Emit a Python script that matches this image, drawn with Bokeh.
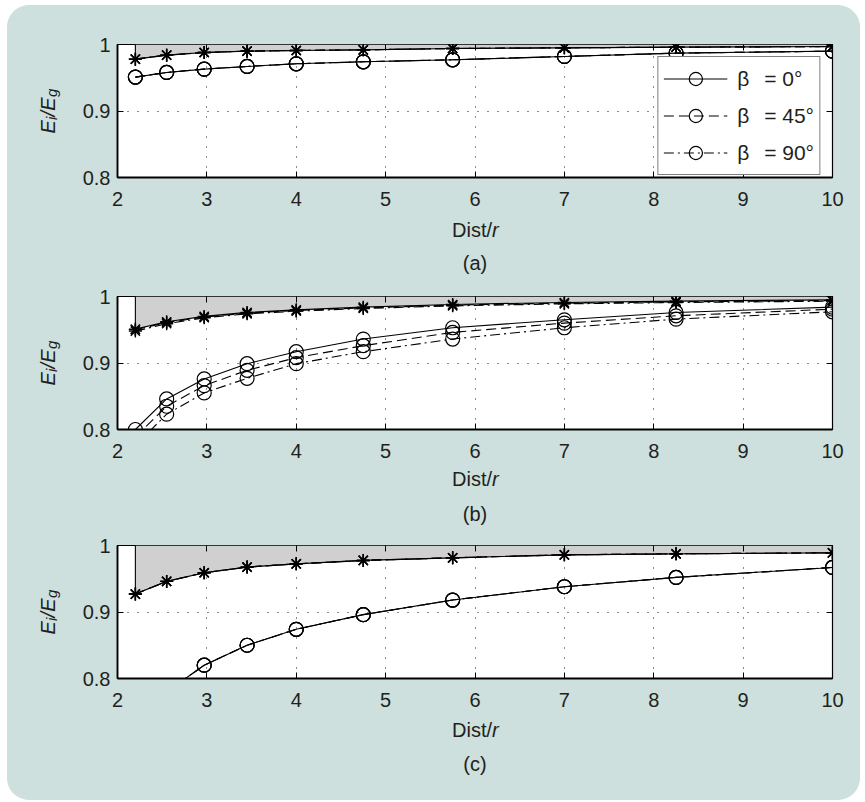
from math import pi
from bokeh.plotting import figure
from bokeh.models import (FixedTicker, LinearAxis, Label, Legend, LegendItem,
                          CustomJSTickFormatter, Range1d)
from bokeh.layouts import column
from bokeh.embed import file_html
from bokeh.resources import INLINE

# ---------------- data ----------------
x_dist = [2.2, 2.55, 2.97, 3.45, 4.0, 4.75, 5.75, 7.0, 8.25, 10.0]
x_ticks = [2, 3, 4, 5, 6, 7, 8, 9, 10]
x_tick_labels = ["2", "3", "4", "5", "6", "7", "8", "9", "10"]
y_ticks = [0.8, 0.9, 1.0]
y_tick_labels = ["0.8", "0.9", "1"]
beta_labels = ["β\u2002\u2009= 0°", "β\u2002\u2009= 45°", "β\u2002\u2009= 90°"]
panel_tags = ["(a)", "(b)", "(c)"]

# panel (a)
a_star_0 = [0.978, 0.984, 0.988, 0.990, 0.991, 0.992, 0.994, 0.995, 0.996, 0.997]
a_star_45 = [0.978, 0.984, 0.988, 0.990, 0.991, 0.992, 0.994, 0.995, 0.996, 0.997]
a_star_90 = [0.978, 0.984, 0.988, 0.990, 0.991, 0.992, 0.994, 0.995, 0.996, 0.997]
a_circ_0 = [0.951, 0.958, 0.963, 0.967, 0.971, 0.974, 0.977, 0.982, 0.987, 0.990]
a_circ_45 = [0.951, 0.958, 0.963, 0.967, 0.971, 0.974, 0.977, 0.982, 0.987, 0.990]
a_circ_90 = [0.951, 0.958, 0.963, 0.967, 0.971, 0.974, 0.977, 0.982, 0.987, 0.990]

# panel (b)
b_star_0 = [0.951, 0.962, 0.970, 0.976, 0.980, 0.984, 0.988, 0.991, 0.993, 0.995]
b_star_45 = [0.950, 0.961, 0.969, 0.975, 0.979, 0.983, 0.987, 0.990, 0.992, 0.994]
b_star_90 = [0.948, 0.959, 0.968, 0.974, 0.978, 0.982, 0.986, 0.989, 0.991, 0.993]
b_circ_0 = [0.800, 0.846, 0.876, 0.899, 0.917, 0.936, 0.953, 0.965, 0.976, 0.984]
b_circ_45 = [0.789, 0.835, 0.866, 0.889, 0.908, 0.926, 0.946, 0.960, 0.971, 0.981]
b_circ_90 = [0.776, 0.823, 0.855, 0.877, 0.899, 0.917, 0.936, 0.953, 0.966, 0.977]

# panel (c)
c_star_0 = [0.927, 0.946, 0.959, 0.9675, 0.9725, 0.9775, 0.9815, 0.986, 0.9875, 0.989]
c_star_45 = [0.927, 0.946, 0.959, 0.9675, 0.9725, 0.9775, 0.9815, 0.986, 0.9875, 0.989]
c_star_90 = [0.927, 0.946, 0.959, 0.9675, 0.9725, 0.9775, 0.9815, 0.986, 0.9875, 0.989]
c_circ_0 = [0.730, 0.780, 0.820, 0.850, 0.874, 0.896, 0.918, 0.938, 0.952, 0.967]
c_circ_45 = [0.730, 0.780, 0.820, 0.850, 0.874, 0.896, 0.918, 0.938, 0.952, 0.967]
c_circ_90 = [0.730, 0.780, 0.820, 0.850, 0.874, 0.896, 0.918, 0.938, 0.952, 0.967]

# ---------------- style ----------------
FONT = "Liberation Sans"
TXT = "#231f20"
BG = "#cde0dd"
FILL = "#d0d0d0"
DASHES = ["solid", "10 5", "10 4 2 4"]
FS = 20


def txt(p, side, text, x, y, xo, yo, size=FS, style="normal", align="center",
        baseline="middle", angle=0.0):
    # labels placed in a side panel are not clipped to the frame
    p.add_layout(Label(x=x, y=y, x_offset=xo, y_offset=yo, text=text,
                       text_font=FONT, text_font_size=f"{size}px",
                       text_font_style=style, text_align=align,
                       text_baseline=baseline, angle=angle, text_color=TXT),
                 side)


def make_panel(stars, circles, tag, top, bottom, xlab_off, tag_off, legend=False):
    p = figure(frame_width=715, frame_height=133,
               x_range=Range1d(2, 10), y_range=Range1d(0.8, 1.0),
               output_backend="svg", toolbar_location=None,
               min_border_left=110, min_border_right=28,
               min_border_top=top, min_border_bottom=bottom,
               background_fill_color="white", border_fill_color=None,
               outline_line_color="black", outline_line_width=1.2)

    # axes
    p.xaxis.ticker = FixedTicker(ticks=x_ticks)
    p.yaxis.ticker = FixedTicker(ticks=y_ticks)
    p.xaxis.major_label_overrides = dict(zip(x_ticks, x_tick_labels))
    p.yaxis.major_label_overrides = dict(zip(y_ticks, y_tick_labels))
    for ax in (p.xaxis[0], p.yaxis[0]):
        ax.axis_line_color = "black"
        ax.axis_line_width = 1.8
        ax.major_tick_in = 6
        ax.major_tick_out = 0
        ax.major_tick_line_color = "black"
        ax.minor_tick_line_color = None
        ax.major_label_text_font = FONT
        ax.major_label_text_font_size = f"{FS}px"
        ax.major_label_text_color = TXT
    p.xaxis.major_label_standoff = 14
    p.yaxis.major_label_standoff = 7

    for loc, tk in (("above", x_ticks), ("right", y_ticks)):
        ax = LinearAxis(ticker=FixedTicker(ticks=tk),
                        formatter=CustomJSTickFormatter(code="return ''"),
                        major_label_text_font_size="0px",
                        major_label_standoff=0,
                        major_tick_in=6, major_tick_out=0,
                        major_tick_line_color="black",
                        minor_tick_line_color=None, axis_line_color=None)
        p.add_layout(ax, loc)

    # grid
    p.xgrid.ticker = FixedTicker(ticks=x_ticks)
    p.ygrid.ticker = FixedTicker(ticks=y_ticks)
    for g in (p.xgrid[0], p.ygrid[0]):
        g.grid_line_color = "black"
        g.grid_line_dash = "1 9"
        g.grid_line_width = 1
        g.grid_line_alpha = 0.9

    # shaded region between the upper curve and 1
    p.varea(x=x_dist, y1=stars[0], y2=1.0, fill_color=FILL)
    p.segment(x0=x_dist[0], y0=stars[0][0], x1=x_dist[0], y1=1.0,
              line_color="black", line_width=1.1)
    p.segment(x0=x_dist[-1], y0=stars[0][-1], x1=x_dist[-1], y1=1.0,
              line_color="black", line_width=1.1)

    items = []
    for i in range(3):
        p.line(x_dist, stars[i], line_color="black", line_width=1.2,
               line_dash=DASHES[i])
        p.scatter(x_dist, stars[i], marker="asterisk", size=13,
                  line_color="black", line_width=1.4)
        lr = p.line(x_dist, circles[i], line_color="black", line_width=1.1,
                    line_dash=DASHES[i])
        cr = p.scatter(x_dist, circles[i], marker="circle", size=14,
                       fill_color=None, line_color="black", line_width=1.2)
        items.append(LegendItem(label=beta_labels[i], renderers=[lr, cr]))

    if legend:
        lg = Legend(items=items, location="top_right", margin=12,
                    label_text_font=FONT, label_text_font_size="21px",
                    label_text_color=TXT,
                    glyph_width=64, glyph_height=33, label_height=33,
                    spacing=4, padding=5, label_standoff=10,
                    border_line_color="black", border_line_width=1.6,
                    background_fill_color="white", background_fill_alpha=1.0)
        p.add_layout(lg)

    # y axis label  E_i / E_g  (rotated, reads bottom to top)
    ang = pi / 2
    xo = -70
    txt(p, "left", "E", 2, 0.9, xo, -22.5, style="italic", align="left", baseline="alphabetic", angle=ang)
    txt(p, "left", "i", 2, 0.9, xo + 4, -9.0, size=15, style="italic", align="left", baseline="alphabetic", angle=ang)
    txt(p, "left", "/E", 2, 0.9, xo, -5.4, style="italic", align="left", baseline="alphabetic", angle=ang)
    txt(p, "right", "g", 2, 0.9, xo + 4, 14.0, size=15, style="italic", align="left", baseline="alphabetic", angle=ang)

    # x axis label  Dist/r  and panel tag
    txt(p, "below", "Dist/", 6, 0.8, 17, -xlab_off, align="right")
    txt(p, "below", "r", 6, 0.8, 17, -xlab_off, style="italic", align="left")
    txt(p, "below", tag, 6, 0.8, 0, -tag_off)
    return p


pa = make_panel([a_star_0, a_star_45, a_star_90], [a_circ_0, a_circ_45, a_circ_90],
                panel_tags[0], 39, 98, 52, 85, legend=True)
pb = make_panel([b_star_0, b_star_45, b_star_90], [b_circ_0, b_circ_45, b_circ_90],
                panel_tags[1], 21, 98, 49, 84)
pc = make_panel([c_star_0, c_star_45, c_star_90], [c_circ_0, c_circ_45, c_circ_90],
                panel_tags[2], 18, 122, 51, 85)

layout = column(pa, pb, pc, spacing=0,
                styles={"background-color": BG, "border-radius": "22px",
                        "margin-left": "7px", "margin-top": "5px"})

open("out.html", "w").write(file_html(layout, INLINE))
